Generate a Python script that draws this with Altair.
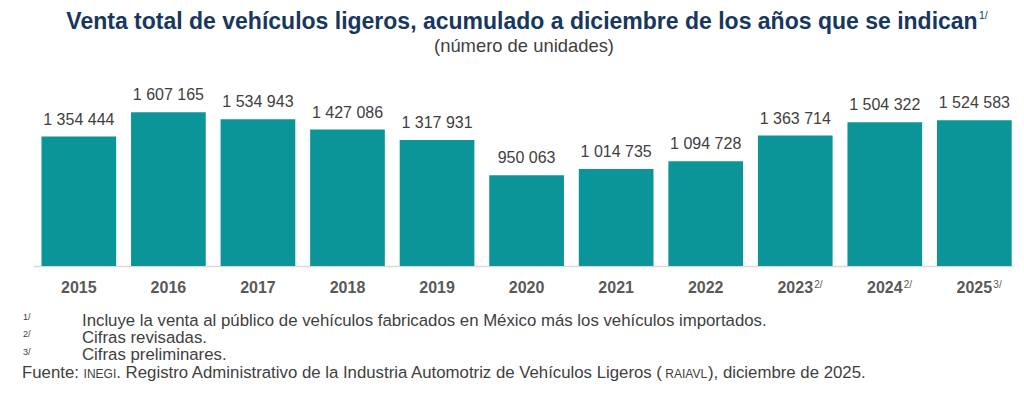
import altair as alt
import pandas as pd

FONT = "Liberation Sans"
TEAL = "#0b9598"
NAVY = "#17375e"
GREY = "#404040"
AXIS_GREY = "#595959"

years = ["2015", "2016", "2017", "2018", "2019", "2020", "2021", "2022", "2023", "2024", "2025"]
values = [1354444, 1607165, 1534943, 1427086, 1317931, 950063, 1014735, 1094728, 1363714, 1504322, 1524583]
notes = ["", "", "", "", "", "", "", "", "2/", "2/", "3/"]

title_text = "Venta total de vehículos ligeros, acumulado a diciembre de los años que se indican"
title_note = "1/"
subtitle_text = "(número de unidades)"

footnote_marks = ["1/", "2/", "3/"]
footnote_texts = [
    "Incluye la venta al público de vehículos fabricados en México más los vehículos importados.",
    "Cifras revisadas.",
    "Cifras preliminares.",
]
source_parts = [
    "Fuente: ",
    "INEGI",
    ". Registro Administrativo de la Industria Automotriz de Vehículos Ligeros (",
    "RAIAVL",
    "), diciembre de 2025.",
]
source_small = [False, True, False, True, False]

df = pd.DataFrame({
    "year": years,
    "value": values,
    "label": [f"{v:,}".replace(",", " ") for v in values],
    "note": notes,
})

# Arial / Liberation Sans advance widths (per 1000 em), used to lay the source line out
W = {" ": 278, "(": 333, ")": 333, ",": 278, ".": 278, ":": 278, "/": 278,
     "A": 667, "E": 667, "F": 611, "G": 778, "I": 278, "L": 556, "N": 722, "R": 722, "V": 667,
     "a": 556, "b": 556, "c": 500, "d": 556, "e": 556, "g": 556, "h": 556, "i": 222,
     "l": 222, "m": 833, "n": 556, "o": 556, "r": 333, "s": 500, "t": 278, "u": 556,
     "v": 500, "z": 500, "í": 278}


def text_width(s, size):
    return sum(W.get(ch, 556) for ch in s) * size / 1000.0


x = alt.X(
    "year:N",
    sort=years,
    scale=alt.Scale(paddingInner=0.166, paddingOuter=0.0547, align=0.867),
    axis=alt.Axis(
        title=None, labelAngle=0, labelFont=FONT, labelFontSize=16,
        labelFontWeight="bold", labelColor=AXIS_GREY, domainColor="#d9d9d9",
        domainWidth=1.5, ticks=False, tickSize=0, labelPadding=13, grid=False,
    ),
)
y = alt.Y("value:Q", scale=alt.Scale(domain=[0, 2050000], nice=False, zero=True), axis=None)

base = alt.Chart(df)
bars = base.mark_bar(color=TEAL).encode(x=x, y=y)
labels = base.mark_text(font=FONT, fontSize=16, color=GREY, dy=-12, baseline="alphabetic").encode(
    x=x, y=y, text="label:N"
)
sups = base.mark_text(font=FONT, fontSize=10, color=AXIS_GREY, align="left", dx=19, baseline="alphabetic").encode(
    x=x, y=alt.value(218), text="note:N"
)


def txt(s, xv, yv, size, color=GREY, weight="normal", align="left"):
    return alt.Chart(pd.DataFrame({"t": [s]})).mark_text(
        font=FONT, fontSize=size, color=color, fontWeight=weight, align=align, baseline="alphabetic"
    ).encode(text="t:N", x=alt.value(xv), y=alt.value(yv))


extra = [
    txt(title_text, 489, -41, 23, NAVY, "bold", "center"),
    txt(title_note, 946, -51, 10.5, NAVY),
    txt(subtitle_text, 491, -18, 18.4, GREY, "normal", "center"),
]

FOOT = 16.8
SMALL = 12
mark_y = [250, 267, 285]
text_y = [256, 273, 290]
for m, t, my, ty in zip(footnote_marks, footnote_texts, mark_y, text_y):
    extra.append(txt(m, -10, my, 9))
    extra.append(txt(t, 49, ty, FOOT))

sx = -11.0
for s, small in zip(source_parts, source_small):
    size = SMALL if small else FOOT
    extra.append(txt(s, round(sx, 1), 308, size))
    sx += text_width(s, size)

chart = alt.layer(bars, labels, sups, *extra).properties(
    width=980,
    height=196,
    padding={"left": 25, "top": 62, "right": 3, "bottom": 124},
    autosize=alt.AutoSizeParams(type="none"),
).configure_view(stroke=None)

chart.save("out.html", embed_options={"renderer": "svg", "actions": False})
